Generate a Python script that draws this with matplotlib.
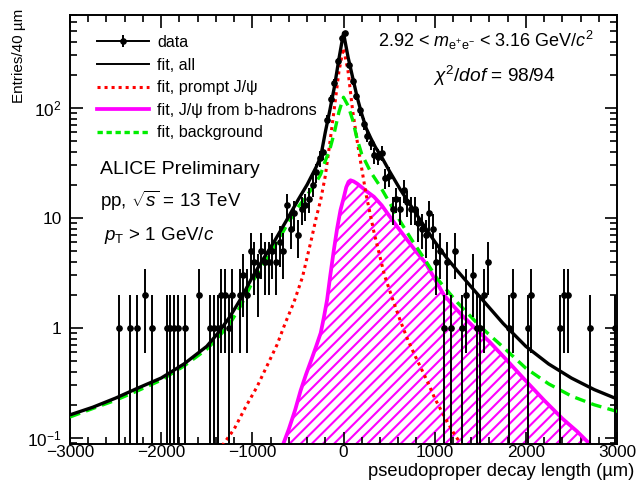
import numpy as np
import matplotlib.pyplot as plt
import matplotlib.ticker as mticker
from matplotlib.lines import Line2D

plt.rcParams['font.family'] = ['Liberation Sans', 'DejaVu Sans']
plt.rcParams['mathtext.fontset'] = 'custom'
plt.rcParams['mathtext.rm'] = 'Liberation Sans'
plt.rcParams['mathtext.it'] = 'Liberation Sans:italic'
plt.rcParams['mathtext.bf'] = 'Liberation Sans:bold'
plt.rcParams['hatch.linewidth'] = 1.5

# data: bin centres (um) and entries per 40 um bin (zero bins omitted)
bin_x = [-2460, -2340, -2260, -2180, -2100, -1940, -1900, -1860, -1820, -1740,
         -1580, -1460, -1420, -1380, -1340, -1300, -1260, -1220, -1140, -1100,
         -1060, -1020, -980, -940, -900, -860, -820, -780, -740, -700,
         -660, -620, -580, -540, -500, -460, -420, -380, -340, -300,
         -260, -220, -180, -140, -100, -60, -20,
         20, 60, 100, 140, 180, 220, 260, 300, 340, 380,
         420, 460, 500, 540, 580, 620, 660, 700, 740, 780,
         820, 860, 900, 940, 980, 1020, 1060, 1100, 1140, 1180,
         1220, 1300, 1340, 1420, 1460, 1500, 1540, 1580, 1820, 1860,
         2020, 2060, 2380, 2420, 2460, 2700, 2980]
counts = [1, 1, 1, 2, 1, 1, 1, 1, 1, 1,
          2, 1, 1, 1, 2, 2, 1, 2, 2, 3,
          2, 5, 4, 3, 5, 4, 4, 5, 4, 6,
          5, 13, 8, 11, 7, 12, 13, 15, 20, 26,
          35, 40, 78, 120, 170, 270, 430,
          480, 246, 174, 129, 95, 72, 56, 48, 37, 36,
          39, 23, 24, 12, 15, 12, 18, 14, 12, 12,
          9, 8, 7, 11, 8, 4, 5, 1, 4, 1,
          5, 1, 2, 3, 1, 1, 2, 4, 1, 2,
          1, 2, 1, 2, 2, 1, 1]

# fit, all
all_x = [-3000, -2750, -2500, -2250, -2000, -1750, -1500, -1375, -1250, -1125,
         -1000, -875, -750, -625, -500, -400, -300, -250, -200, -150,
         -100, -50, 0, 50, 100, 150, 200, 250, 300, 350,
         425, 500, 625, 750, 875, 1000, 1125, 1250, 1375, 1500,
         1750, 2000, 2250, 2500, 2750, 3000]
all_y = [0.162, 0.19, 0.23, 0.285, 0.35, 0.47, 0.68, 0.9, 1.25, 1.85,
         2.9, 4.3, 6.3, 9.5, 14.5, 20, 29, 36, 60, 95,
         155, 280, 480, 290, 190, 125, 88, 65, 53, 44,
         35, 27, 18, 12.5, 8.7, 6.1, 4.4, 3.3, 2.5, 1.9,
         1.1, 0.68, 0.47, 0.35, 0.275, 0.226]

# fit, prompt J/psi
prompt_x = [-1330, -1200, -1075, -950, -840, -730, -640, -545, -450, -350,
            -300, -250, -200, -150, -100, -50, 0, 50, 100, 150,
            200, 250, 333, 450, 552, 625, 700, 775, 845, 925,
            1000, 1100, 1210, 1300]
prompt_y = [0.085, 0.12, 0.19, 0.29, 0.45, 0.7, 1.1, 1.7, 2.9, 6.5,
            10, 14.6, 24, 48, 100, 215, 350, 215, 95, 50,
            28, 16, 7.5, 3, 1.7, 1.15, 0.8, 0.58, 0.44, 0.32,
            0.23, 0.16, 0.11, 0.085]

# fit, J/psi from b-hadrons
nonprompt_x = [-680, -600, -530, -470, -410, -350, -300, -250, -215, -180,
               -145, -106, -70, -33, 0, 30, 55, 77, 110, 150,
               200, 260, 333, 420, 500, 600, 700, 800, 900, 1000,
               1100, 1200, 1300, 1450, 1600, 1800, 2000, 2200, 2400, 2560, 2720]
nonprompt_y = [0.08, 0.12, 0.18, 0.27, 0.38, 0.52, 0.68, 0.9, 1.25, 1.8,
               3.0, 5.1, 8.0, 11.8, 15, 19, 21.3, 22, 21.5, 20.5,
               19, 17.3, 15.6, 13, 10.5, 8.1, 6.3, 4.9, 3.9, 2.8,
               2.0, 1.6, 1.3, 0.98, 0.75, 0.5, 0.33, 0.22, 0.15, 0.115, 0.085]

# fit, background
bkg_x = [-3000, -2750, -2500, -2250, -2000, -1750, -1500, -1375, -1250, -1125,
         -1000, -875, -750, -625, -500, -400, -300, -250, -200, -150,
         -100, -50, 0, 50, 100, 150, 200, 300, 400, 500,
         626, 750, 875, 1028, 1250, 1500, 1750, 2000, 2250, 2500,
         2750, 3000]
bkg_y = [0.155, 0.185, 0.22, 0.27, 0.335, 0.45, 0.64, 0.82, 1.08, 1.6,
         2.6, 3.9, 5.6, 8.5, 12.5, 16, 21, 25, 33, 42,
         60, 92, 125, 105, 78, 52, 38, 26, 19.5, 14,
         9.2, 6.3, 4.4, 2.8, 1.7, 1.03, 0.67, 0.43, 0.31, 0.24,
         0.2, 0.174]

fig = plt.figure(figsize=(6.36, 4.83), dpi=100)
ax = fig.add_axes([70/636, 1-444/483, 547/636, 429/483])
ax.set_yscale('log')
ax.set_xlim(-3000, 3000)
ax.set_ylim(0.088, 700)

ax.fill_between(nonprompt_x, nonprompt_y, 1e-3, facecolor='none',
                edgecolor='#ff00ff', hatch='///', linewidth=0, zorder=1)
ax.plot(nonprompt_x, nonprompt_y, color='#ff00ff', lw=2.7, zorder=2)
ax.plot(prompt_x, prompt_y, color='#ff0000', lw=2.2, dashes=(1, 1.3), zorder=3)
ax.plot(bkg_x, bkg_y, color='#00ee00', lw=2.4, dashes=(3.2, 1.9), zorder=3)
ax.plot(all_x, all_y, color='black', lw=2.4, zorder=4)

n = np.array(counts, dtype=float)
err = np.sqrt(n)
lower = np.clip(n - err, 1e-4, None)
ax.errorbar(bin_x, n, yerr=[n - lower, err], xerr=20, fmt='o', color='black',
            ms=3.8, elinewidth=1.4, capsize=0, zorder=5)

ax.xaxis.set_major_locator(mticker.MultipleLocator(1000))
ax.xaxis.set_minor_locator(mticker.MultipleLocator(200))
ax.yaxis.set_major_locator(mticker.FixedLocator([0.1, 1, 10, 100]))
ax.yaxis.set_major_formatter(mticker.FixedFormatter([r'$10^{-1}$', '1', '10', r'$10^{2}$']))
ax.yaxis.set_minor_locator(mticker.LogLocator(base=10, subs=np.arange(2, 10)))
ax.yaxis.set_minor_formatter(mticker.NullFormatter())
ax.tick_params(which='both', direction='in', top=True, right=True, width=1.2)
ax.tick_params(which='major', length=9, labelsize=12.4)
ax.tick_params(axis='x', which='major', pad=1)
ax.tick_params(axis='y', which='major', pad=6)
ax.tick_params(which='minor', length=5)
for s in ax.spines.values():
    s.set_linewidth(1.4)

fig.text(634/636, 1-472/483, 'pseudoproper decay length (µm)', ha='right',
         va='center', fontsize=13.2)
fig.text(19/636, 1-9/483, 'Entries/40 µm', rotation=90, ha='center', va='top',
         fontsize=11)

handles = [
    (Line2D([], [], color='black', lw=1.4),
     Line2D([], [], color='black', marker='o', ms=3.8, ls='none'),
     Line2D([], [], color='black', marker='|', ms=9, mew=1.4, ls='none')),
    Line2D([], [], color='black', lw=1.4),
    Line2D([], [], color='#ff0000', lw=2.2, dashes=(1, 1.3)),
    Line2D([], [], color='#ff00ff', lw=2.7),
    Line2D([], [], color='#00ee00', lw=2.4, dashes=(1.6, 1.1)),
]
labels = ['data', 'fit, all', 'fit, prompt J/ψ', 'fit, J/ψ from b-hadrons',
          'fit, background']
ax.legend(handles, labels, loc='upper left', bbox_to_anchor=(97/636, 1-35/483),
          bbox_transform=fig.transFigure, frameon=False, fontsize=11.6,
          handlelength=3.2, handletextpad=0.55, labelspacing=0.47,
          borderpad=0, borderaxespad=0)

fig.text(100/636, 1-169/483, 'ALICE Preliminary', fontsize=14, va='center')
fig.text(100/636, 1-201/483, r'pp, $\sqrt{s}$ = 13 TeV', fontsize=13.5, va='center')
fig.text(104/636, 1-236/483, r'$p_{\mathrm{T}}$ > 1 GeV/$c$', fontsize=13.5, va='center')
fig.text(378/636, 1-40/483, r'2.92 < $m_{\mathrm{e^{+}e^{-}}}$ < 3.16 GeV/$c^{2}$',
         fontsize=13, va='center')
fig.text(433/636, 1-76/483, r'$\chi^{2}/dof$ = 98/94', fontsize=13.8, va='center')

fig.savefig('out.png', dpi=100)
